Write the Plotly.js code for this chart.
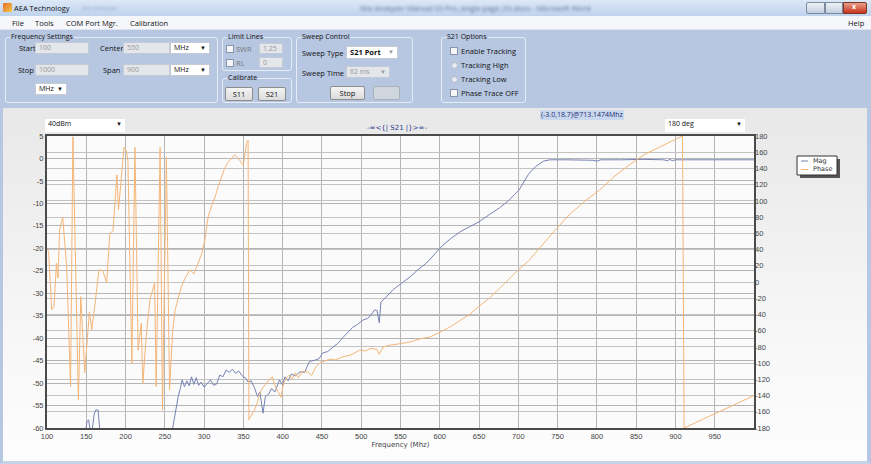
<!DOCTYPE html>
<html><head><meta charset="utf-8">
<script src="https://cdn.plot.ly/plotly-3.0.1.min.js"></script>
<style>
html,body{margin:0;padding:0;width:871px;height:464px;overflow:hidden;font-family:"Open Sans","Noto Sans",sans-serif;}
.abs{position:absolute;box-sizing:border-box;}
#titlebar{left:0;top:0;width:871px;height:16px;background:linear-gradient(#dce8f7,#bfd3ee);}
#menubar{left:0;top:16px;width:871px;height:14px;background:#f6f7fb;border-bottom:1px solid #dfe4ee;}
#panel{left:0;top:30px;width:871px;height:78px;background:#b7c7e2;}
#chartpanel{left:0;top:108px;width:871px;height:356px;background:linear-gradient(#e8e8e8,#f8f8f8 70%,#fdfdfd);border-left:3px solid #b7c7e2;border-right:4px solid #b7c7e2;border-bottom:3px solid #c6d4ea;}
.t{position:absolute;font-size:7.5px;color:#111;white-space:nowrap;line-height:10px;}
.grp{position:absolute;border:1px solid #e6ecf6;border-radius:3px;box-sizing:border-box;}
.grp .lbl{position:absolute;top:-6px;left:4px;font-size:7px;color:#111;background:#b7c7e2;padding:0 1px;line-height:10px;}
.tb{position:absolute;background:#e3e6ea;border:1px solid #c5cbd4;box-sizing:border-box;font-size:7px;color:#999;padding-left:3px;line-height:10px;}
.cb{position:absolute;background:#fff;border:1px solid #c5cbd4;box-sizing:border-box;font-size:7px;color:#111;padding-left:3px;line-height:10px;}
.cb .ar{position:absolute;right:3px;top:0;font-size:6px;}
.chk{position:absolute;width:8px;height:8px;background:#f4f6fa;border:1px solid #8a96a8;box-sizing:border-box;}
.rad{position:absolute;width:7px;height:7px;background:#e8ecf2;border:1px solid #b0b8c6;border-radius:50%;box-sizing:border-box;}
.btn{position:absolute;background:linear-gradient(#f4f4f4,#dcdcdc);border:1px solid #8c8c8c;border-radius:2px;box-sizing:border-box;font-size:7.5px;color:#111;text-align:center;line-height:12px;}
#plot{position:absolute;left:0;top:108px;width:871px;height:354px;}
</style></head>
<body>
<div id="titlebar" class="abs">
  <div class="abs" style="left:3px;top:3px;width:9px;height:9px;background:linear-gradient(135deg,#e86b2a,#f3c94a);border-radius:1px;"></div>
  <div class="t" style="left:14px;top:3px;font-size:7.5px;">AEA Technology</div>
  <div class="t" style="left:82px;top:3px;color:#8ea0bf;filter:blur(1.6px);font-size:6px;">Site Analyzer</div>
  <div class="t" style="left:360px;top:3px;color:#5f7294;filter:blur(1.4px);">Site Analyzer Manual SS Pro_single page_03.docx - Microsoft Word</div>
  <div class="abs" style="left:806px;top:2px;width:19px;height:12px;background:linear-gradient(#eef2f8,#c3cedd);border:1px solid #7d8ba0;border-radius:2px 0 0 2px;"></div>
  <div class="abs" style="left:825px;top:2px;width:18px;height:12px;background:linear-gradient(#eef2f8,#c3cedd);border:1px solid #7d8ba0;"></div>
  <div class="abs" style="left:843px;top:2px;width:24px;height:12px;background:linear-gradient(#e9a08e,#c8321c);border:1px solid #7d3525;border-radius:0 2px 2px 0;"></div>
  <div class="t" style="left:852px;top:2px;color:#fff;font-weight:bold;font-size:7px;">x</div>
</div>
<div id="menubar" class="abs">
  <div class="t" style="left:12px;top:2px;">File</div>
  <div class="t" style="left:35px;top:2px;">Tools</div>
  <div class="t" style="left:66px;top:2px;">COM Port Mgr.</div>
  <div class="t" style="left:130px;top:2px;">Calibration</div>
  <div class="t" style="left:848px;top:2px;">Help</div>
</div>
<div id="panel" class="abs">
  <div class="grp" style="left:5px;top:7px;width:213px;height:66px;"><span class="lbl">Frequency Settings</span></div>
  <div class="t" style="left:19px;top:13px;">Start</div>
  <div class="tb" style="left:35px;top:12px;width:54px;height:12px;">100</div>
  <div class="t" style="left:100px;top:13px;">Center</div>
  <div class="tb" style="left:123px;top:12px;width:47px;height:12px;">550</div>
  <div class="cb" style="left:170px;top:12px;width:40px;height:12px;">MHz<span class="ar">&#9660;</span></div>
  <div class="t" style="left:18px;top:35px;">Stop</div>
  <div class="tb" style="left:35px;top:34px;width:54px;height:12px;">1000</div>
  <div class="t" style="left:103px;top:35px;">Span</div>
  <div class="tb" style="left:123px;top:34px;width:47px;height:12px;">900</div>
  <div class="cb" style="left:170px;top:34px;width:40px;height:12px;">MHz<span class="ar">&#9660;</span></div>
  <div class="cb" style="left:35px;top:53px;width:32px;height:12px;">MHz<span class="ar">&#9660;</span></div>

  <div class="grp" style="left:222px;top:7px;width:70px;height:34px;"><span class="lbl">Limit Lines</span></div>
  <div class="chk" style="left:226px;top:15px;"></div>
  <div class="t" style="left:236px;top:14px;color:#777;">SWR</div>
  <div class="tb" style="left:259px;top:13px;width:24px;height:11px;">1.25</div>
  <div class="chk" style="left:226px;top:29px;"></div>
  <div class="t" style="left:236px;top:28px;color:#777;">RL</div>
  <div class="tb" style="left:259px;top:27px;width:24px;height:11px;">0</div>

  <div class="grp" style="left:222px;top:48px;width:70px;height:25px;"><span class="lbl">Calibrate</span></div>
  <div class="btn" style="left:225px;top:57px;width:28px;height:14px;">S11</div>
  <div class="btn" style="left:258px;top:57px;width:28px;height:14px;">S21</div>

  <div class="grp" style="left:296px;top:7px;width:117px;height:66px;"><span class="lbl">Sweep Control</span></div>
  <div class="t" style="left:302px;top:18px;">Sweep Type</div>
  <div class="cb" style="left:346px;top:16px;width:52px;height:13px;font-weight:bold;font-size:7.5px;">S21 Port<span class="ar" style="color:#999;">&#9660;</span></div>
  <div class="t" style="left:302px;top:38px;">Sweep Time</div>
  <div class="tb" style="left:346px;top:36px;width:44px;height:12px;">62 ms<span style="position:absolute;right:3px;font-size:6px;">&#9660;</span></div>
  <div class="btn" style="left:330px;top:56px;width:35px;height:14px;">Stop</div>
  <div class="abs" style="left:373px;top:56px;width:27px;height:14px;background:#d0d6de;border:1px solid #a8b0bc;border-radius:2px;"></div>

  <div class="grp" style="left:441px;top:7px;width:85px;height:66px;"><span class="lbl">S21 Options</span></div>
  <div class="chk" style="left:450px;top:17px;"></div>
  <div class="t" style="left:461px;top:16px;">Enable Tracking</div>
  <div class="rad" style="left:451px;top:32px;"></div>
  <div class="t" style="left:461px;top:30px;">Tracking High</div>
  <div class="rad" style="left:451px;top:46px;"></div>
  <div class="t" style="left:461px;top:44px;">Tracking Low</div>
  <div class="chk" style="left:450px;top:59px;"></div>
  <div class="t" style="left:461px;top:58px;">Phase Trace OFF</div>
</div>
<div id="chartpanel" class="abs"></div>
<div id="plot"></div>
<div class="cb" style="left:45px;top:119px;width:80px;height:13px;border:none;z-index:5;">40dBm<span class="ar">&#9660;</span></div>
<div class="cb" style="left:665px;top:119px;width:80px;height:13px;border:none;z-index:5;">180 deg<span class="ar">&#9660;</span></div>
<div class="t" style="left:540px;top:110px;background:#c9d7ef;color:#1d2d6e;font-size:7px;padding:0 1px;z-index:5;">(-3.0,18.7)@713.1474Mhz</div>
<script>
// ---- data ----
const magFreq = [100,140,148,151,153,155,157,160,162,165,167,170,250,257,260,264,267,270,272,275,278,281,284,287,290,293,296,300,304,308,312,316,320,324,328,332,336,340,344,349,353,356,360,364,368,371,375,378,382,386,390,393,396,400,403,407,411,416,422,428,434,441,446,451,457,464,470,477,483,489,495,502,508,512,517,520,523,525,532,540,551,562,572,583,594,604,615,627,638,650,663,676,688,701,713,722,732,740,760,780,795,800,805,830,860,885,890,893,896,900,940,970,1000];
const magDb = [-64,-64,-62,-58.5,-58.2,-60.5,-61,-57,-56,-56,-60,-64,-64,-63,-60,-56,-53,-51,-49.3,-50.8,-49.5,-50.6,-48.6,-50.3,-48.8,-50.5,-49.8,-50.9,-50,-49.3,-50.5,-50.2,-48.2,-48.6,-47.1,-47.6,-46.9,-47.8,-47.3,-48.5,-48.9,-49.8,-49.5,-51,-53,-52,-56.7,-53,-52.5,-51.2,-52,-50.5,-49.3,-50.5,-48.6,-49.5,-48,-48.4,-47.5,-47.6,-45.2,-44.9,-44.6,-43.3,-43,-42,-41.2,-39.8,-38.8,-37.6,-37,-36,-35.6,-35,-33.7,-33.8,-36.6,-32,-30.8,-29.3,-27.8,-26.4,-24.8,-23.3,-21.2,-19.3,-17.7,-16.2,-15.2,-14.1,-12.5,-11,-9.3,-7,-3.5,-1.8,-0.6,-0.3,-0.3,-0.3,-0.4,-0.6,-0.3,-0.3,-0.2,-0.3,-0.5,-0.2,-0.5,-0.3,-0.3,-0.3,-0.3];

const phaseFreq = [100,102,106,109,112,114,116,120,125,130,133,136,140,143,148,154,157,162,166,171,176,180,184,189,191,198,201,203,208,212,216,220,222,226,231,237,239,244,247,252,256,260,263,267,271,276,282,287,292,297,301,305,310,314,318,322,326,330,335,339,343,347,350,354,356,357,360,364,368,371,375,379,383,387,390,394,398,401,405,408,412,416,420,425,432,437,442,447,453,460,467,477,487,498,505,512,520,523,528,536,550,562,575,587,600,612,625,638,650,663,676,689,700,713,727,745,765,785,803,822,841,860,879,895,909,911,940,970,1000];
const phaseDeg = [40,38,-34,-30,23,5,64,80,20,-129,179,20,-145,-18,-112,-37,-59,-20,15,14,-1,60,63,132,89,166,162,150,-100,166,-84,-51,-125,-70,-22,-1,-129,166,-158,154,-133,-60,-35,-20,-6,5,15,10,23,35,52,80,95,105,118,130,140,147,152,157,153,148,144,171,175,-170,-165,-158,-148,-137,-130,-125,-120,-117,-127,-135,-142,-125,-118,-115,-120,-112,-118,-110,-111,-115,-105,-100,-98,-95,-96,-92,-90,-84,-85,-82,-83,-89,-80,-78,-76,-74,-70,-68,-62,-56,-48,-40,-30,-20,-8,5,15,26,42,62,83,100,113,130,144,157,166,174,180,-180,-167,-153,-140];

const seriesNames = ['Mag','Phase'];
const seriesColors = ['#7782b6','#f4b677'];

const xTicks = [100,150,200,250,300,350,400,450,500,550,600,650,700,750,800,850,900,950];
const yTicks = [5,0,-5,-10,-15,-20,-25,-30,-35,-40,-45,-50,-55,-60];
const y2Ticks = [180,160,140,120,100,80,60,40,20,0,-20,-40,-60,-80,-100,-120,-140,-160,-180];

const tickFont = {family:'Liberation Sans, Arial, sans-serif', size:7.5, color:'#444'};
const data = [
  {x:magFreq, y:magDb, type:'scatter', mode:'lines', name:seriesNames[0], line:{color:seriesColors[0], width:1}, hoverinfo:'skip'},
  {x:phaseFreq, y:phaseDeg, type:'scatter', mode:'lines', name:seriesNames[1], yaxis:'y2', line:{color:seriesColors[1], width:1}, hoverinfo:'skip'}
];

// legend drawn with paper-referenced shapes (plot area: x 47..754 px, y 136..428 px on page)
const px = v => (v - 47) / 707;
const py = v => (428 - v) / 292;
const shapes = [
  {type:'rect', xref:'paper', yref:'paper', x0:px(800), x1:px(840), y0:py(178), y1:py(159), fillcolor:'#555', line:{width:0}},
  {type:'rect', xref:'paper', yref:'paper', x0:px(797), x1:px(837), y0:py(175), y1:py(156), fillcolor:'#ffffff', line:{color:'#333', width:1}},
  {type:'line', xref:'paper', yref:'paper', x0:px(801), x1:px(808), y0:py(161), y1:py(161), line:{color:seriesColors[0], width:1}},
  {type:'line', xref:'paper', yref:'paper', x0:px(801), x1:px(808), y0:py(169.5), y1:py(169.5), line:{color:seriesColors[1], width:1}}
];
const legFont = {family:'DejaVu Sans, sans-serif', size:6.5, color:'#333'};
const annotations = [
  {xref:'paper', yref:'paper', x:px(811), y:py(161), text:seriesNames[0], showarrow:false, xanchor:'left', yanchor:'middle', font:legFont},
  {xref:'paper', yref:'paper', x:px(811), y:py(169.5), text:seriesNames[1], showarrow:false, xanchor:'left', yanchor:'middle', font:legFont}
];

const layout = {
  width:871, height:354,
  margin:{l:47, r:117, t:28, b:34},
  paper_bgcolor:'rgba(0,0,0,0)',
  plot_bgcolor:'#fbfbfb',
  showlegend:false,
  shapes:shapes,
  annotations:annotations,
  title:{text:'-=<{| S21 |}>=-', x:0.495, xref:'paper', xanchor:'center', y:0.946, yref:'container', yanchor:'middle',
         font:{family:'DejaVu Sans, sans-serif', size:7, color:'#2b3a8c'}},
  xaxis:{range:[100,1000], tickvals:xTicks, ticktext:xTicks.map(String), showgrid:true, gridcolor:'#b5b5b5', gridwidth:1,
         showline:true, mirror:true, linecolor:'#4a4a4a', linewidth:2, ticks:'', zeroline:false, tickfont:tickFont,
         title:{text:'Frequency (Mhz)', font:{family:'DejaVu Sans, sans-serif', size:7, color:'#444'}, standoff:2}},
  yaxis:{range:[-60,5], tickvals:yTicks, ticktext:yTicks.map(String), showgrid:true, gridcolor:'#b5b5b5', gridwidth:1,
         showline:true, mirror:true, linecolor:'#4a4a4a', linewidth:2, ticks:'', zeroline:false, tickfont:tickFont},
  yaxis2:{range:[-180,180], overlaying:'y', side:'right', tickvals:y2Ticks, ticktext:y2Ticks.map(String), showgrid:true,
          gridcolor:'#c2c2c2', gridwidth:1, zeroline:false, ticks:'', tickfont:tickFont, showline:false}
};
Plotly.newPlot('plot', data, layout, {staticPlot:true, displayModeBar:false});
</script>
</body></html>
